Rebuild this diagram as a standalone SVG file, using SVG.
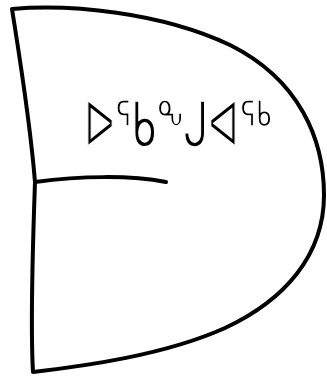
<svg xmlns="http://www.w3.org/2000/svg" width="327" height="382" viewBox="0 0 327 382">
<style>
.o{fill:#fff;stroke:#000;stroke-width:4;stroke-linejoin:round;stroke-linecap:round}
.l{fill:none;stroke:#000;stroke-width:4;stroke-linecap:round}
.t{font-family:"DejaVu Sans",sans-serif;font-size:40px;fill:#000;stroke:#fff;stroke-width:1px}
</style>
<g id="shape">
<path class="o" d="M12,9 C70,4 160,12 230,45 C300,80 324,140 324,195 C324,255 285,300 225,328 C165,355 85,366 33,372 C30,320 33,240 35,182 C30,120 20,60 12,9 Z"/>
<path class="l" d="M35,182 C80,176 130,175 166,182"/>
<text class="t" transform="translate(84,146) scale(0.99,1.55)">ᐅᕐᑲᖕᒍᐊᖅ</text>
</g>
</svg>
